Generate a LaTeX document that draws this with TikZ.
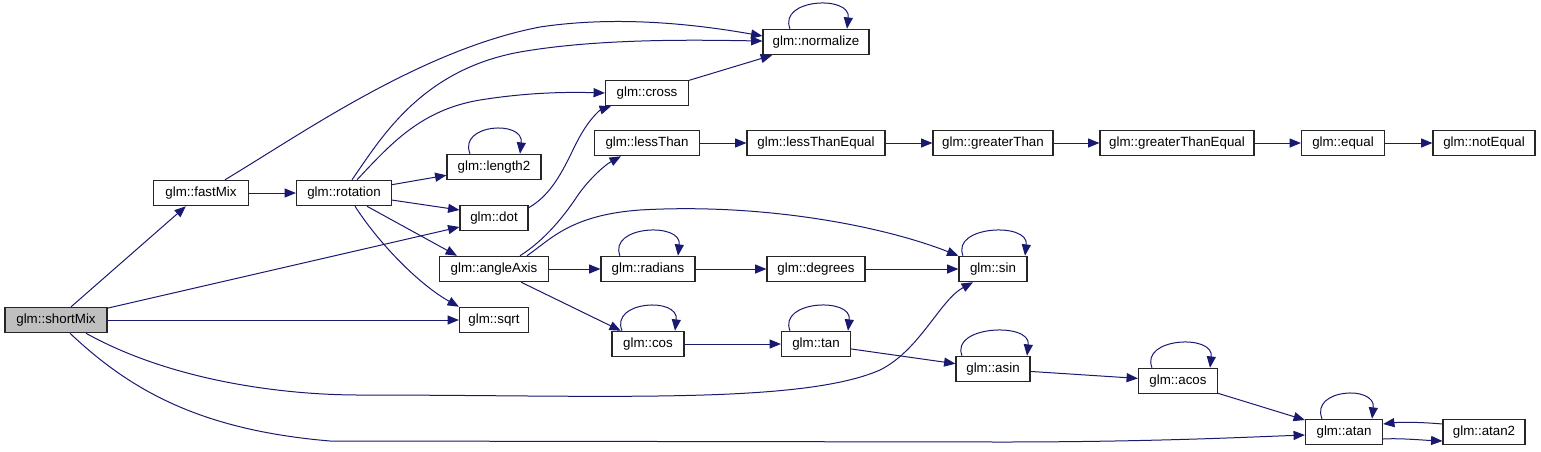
\documentclass[tikz,border=0pt]{standalone}
\usepackage{fontspec}
\setmainfont{Liberation Sans}
\usetikzlibrary{arrows.meta,calc}
\definecolor{edgecol}{HTML}{191970}
\definecolor{rootfill}{HTML}{BFBFBF}
\tikzset{
  fn/.style={draw=black!85, line width=0.9pt, fill=white, inner sep=0pt,
    minimum height=19pt, font=\fontsize{10}{12}\selectfont},
  root/.style={fn, fill=rootfill},
  edge/.style={draw=edgecol, line width=0.75pt,
    -{Triangle[length=8.5pt,width=6.8pt]}, edgecol}
}
\newcommand\fnnode[5][fn]{\node[#1, minimum width=#5*0.75pt] (#2) at (#3) {#4};}
\newcommand\selfloop[3]{\draw[edge] ($(#1.north)+(#2,0)$) .. controls +(-12,-30) and +(4,-34) .. ($(#1.north)+(#3,0)$);}
\begin{document}
\begin{tikzpicture}[x=0.75pt,y=-0.75pt]
\useasboundingbox (0,0) rectangle (1541,451);
% nodes
\fnnode[root]{sm}{56,320}{glm::shortMix}{102}
\fnnode{fm}{201,193}{glm::fastMix}{95}
\fnnode{rot}{344,193}{glm::rotation}{95}
\fnnode{norm}{816,42}{glm::normalize}{106}
\fnnode{cross}{647,93}{glm::cross}{83}
\fnnode{len}{494,167}{glm::length2}{94}
\fnnode{dot}{494,218}{glm::dot}{68}
\fnnode{lt}{647,143}{glm::lessThan}{105}
\fnnode{lte}{816,143}{glm::lessThanEqual}{138}
\fnnode{gt}{993,143}{glm::greaterThan}{120}
\fnnode{gte}{1177,143}{glm::greaterThanEqual}{154}
\fnnode{eq}{1343,143}{glm::equal}{83}
\fnnode{neq}{1484,143}{glm::notEqual}{102}
\fnnode{aa}{494,269}{glm::angleAxis}{109}
\fnnode{rad}{648,269}{glm::radians}{94}
\fnnode{deg}{816,269}{glm::degrees}{98}
\fnnode{sin}{993,269}{glm::sin}{68}
\fnnode{sqrt}{494,320}{glm::sqrt}{69}
\fnnode{cos}{648,344}{glm::cos}{72}
\fnnode{tan}{816,344}{glm::tan}{69}
\fnnode{asin}{993,369}{glm::asin}{74}
\fnnode{acos}{1178,381}{glm::acos}{79}
\fnnode{atan}{1344,432}{glm::atan}{77}
\fnnode{atan2}{1484,432}{glm::atan2}{82}
% edges from shortMix
\draw[edge] (sm) -- (fm);
\draw[edge] (sm) -- ($(dot.west)+(0,9)$);
\draw[edge] (sm) -- (sqrt);
\draw[edge] ($(sm.south)+(30,0)$) .. controls (170,380) and (280,395) .. (360,395)
  .. controls (600,395) and (800,405) .. (880,370)
  .. controls (920,350) and (940,300) .. ($(sin.south)+(-20,0)$);
\draw[edge] ($(sm.south)+(14,0)$) .. controls (130,390) and (200,430) .. (330,441)
  -- (1000,442) .. controls (1150,442) and (1250,437) .. ($(atan.west)+(0,3)$);
% fastMix
\draw[edge] (fm) -- (rot);
\draw[edge] ($(fm.north)+(24,0)$) .. controls (300,135) and (420,50) .. (540,27)
  .. controls (620,15) and (700,25) .. ($(norm.west)+(0,-6)$);
% rotation
\draw[edge] ($(rot.north)+(8,0)$) .. controls (380,140) and (420,70) .. (520,52)
  .. controls (600,38) and (700,40) .. ($(norm.west)+(0,-1)$);
\draw[edge] ($(rot.north)+(13,0)$) .. controls (390,145) and (420,110) .. (480,100)
  .. controls (530,92) and (570,92) .. (cross.west);
\draw[edge] (rot) -- (len);
\draw[edge] (rot) -- ($(dot.west)+(0,-8)$);
\draw[edge] ($(rot.south)+(23,0)$) -- ($(aa.north)+(-37,0)$);
\draw[edge] ($(rot.south)+(11,0)$) .. controls (380,245) and (420,285) .. (sqrt.north west);
% others
\draw[edge] (cross) -- (norm);
\draw[edge] ($(dot.north east)+(0,3)$) .. controls (560,190) and (570,150) .. (585,128)
  .. controls (592,117) and (600,110) .. ($(cross.south west)+(6,0)$);
\draw[edge] ($(aa.north)+(26,0)$) .. controls (545,240) and (565,215) .. (578,195)
  .. controls (590,178) and (605,165) .. ($(lt.south west)+(27,0)$);
\draw[edge] ($(aa.north)+(33,0)$) .. controls (550,240) and (570,215) .. (640,210)
  .. controls (760,203) and (880,225) .. (sin.north west);
\draw[edge] (aa) -- (rad);
\draw[edge] (aa) -- (cos);
\draw[edge] (rad) -- (deg);
\draw[edge] (deg) -- (sin);
\draw[edge] (cos) -- (tan);
\draw[edge] (tan) -- (asin);
\draw[edge] (asin) -- (acos);
\draw[edge] (acos) -- (atan);
\draw[edge] ($(atan2.west)+(0,-8)$) .. controls (1420,422) and (1400,422) .. ($(atan.east)+(0,-8)$);
\draw[edge] ($(atan.east)+(0,7)$) .. controls (1400,438) and (1420,440) .. ($(atan2.west)+(0,9)$);
\draw[edge] (lt) -- (lte);
\draw[edge] (lte) -- (gt);
\draw[edge] (gt) -- (gte);
\draw[edge] (gte) -- (eq);
\draw[edge] (eq) -- (neq);
% self loops
\selfloop{norm}{-26}{31}
\selfloop{len}{-24}{26}
\selfloop{sin}{-30}{32}
\selfloop{rad}{-28}{30}
\selfloop{cos}{-26}{27}
\selfloop{tan}{-26}{32}
\selfloop{asin}{-31}{34}
\selfloop{acos}{-26}{32}
\selfloop{atan}{-22}{28}
\end{tikzpicture}
\end{document}
